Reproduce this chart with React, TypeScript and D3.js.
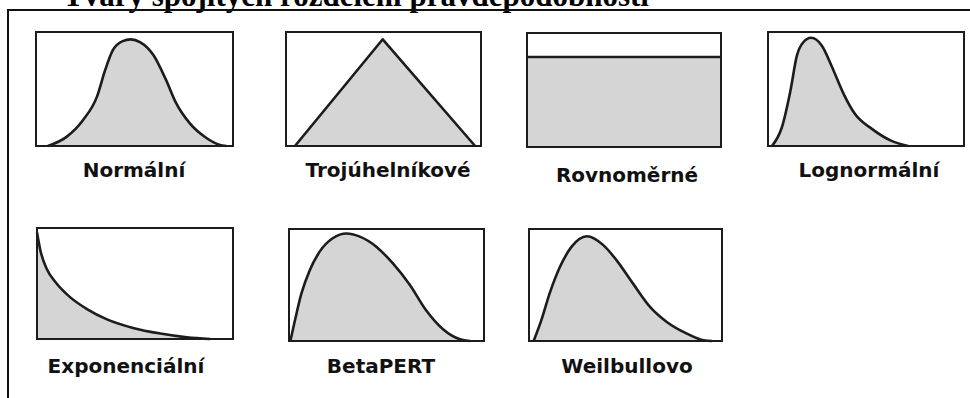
import React from 'react';
import * as d3 from 'd3';

// Tvary rozdělení: body (x, y v % šířky/výšky okénka)
const title = 'Tvary spojitých rozdělení pravděpodobnosti';

const labels = ['Normální', 'Trojúhelníkové', 'Rovnoměrné', 'Lognormální', 'Exponenciální', 'BetaPERT', 'Weilbullovo'];

const normal: [number, number][] = [
  [6, 0], [15.5, 8], [24, 23], [31, 43.5], [35, 66], [39, 84], [44, 92], [48, 93.5], [53, 91],
  [59.5, 80], [66, 58], [71, 38], [78, 20], [86.5, 7], [93, 1.2], [96.6, 0],
];
const triangular: [number, number][] = [[4.6, 0], [49.6, 93.6], [97, 0]];
const uniform: [number, number][] = [[0, 79], [100, 79]];
const lognormal: [number, number][] = [
  [2, 0], [7, 16], [11.5, 49], [14.7, 79], [18, 91], [22, 95], [27.5, 88], [32.5, 70],
  [38.5, 46], [44.4, 28], [53, 15], [63, 4.5], [71.5, 0],
];
const exponential: [number, number][] = [
  [0, 96], [1.7, 80], [5, 63], [10, 50], [17, 37.5], [25.5, 27], [35.7, 17.7], [49, 10],
  [63, 4.9], [76.5, 1.5], [88.4, 0],
];
const betaPert: [number, number][] = [
  [0.7, 0], [3, 18], [6.3, 42], [10.6, 63], [15.8, 80], [22.6, 92], [29.5, 96], [36, 93.4],
  [44.9, 84], [53.4, 69], [62, 50], [70.5, 27], [79, 10.5], [87.7, 1.5], [92.8, 0],
];
const weibull: [number, number][] = [
  [2.4, 0], [6.4, 18.6], [10.7, 42.5], [16, 66], [22, 84], [30, 93.5], [38.5, 85.6],
  [45.4, 72], [54, 51], [62.7, 30.5], [71.4, 17], [81.8, 6.6], [90.5, 0.6], [94.8, 0],
];

const series = [normal, triangular, uniform, lognormal, exponential, betaPert, weibull];
const straight = [false, true, true, false, false, false, false];

// rozložení okének na stránce
const boxes = [
  { x0: 36, x1: 233, y0: 32, y1: 146, lx: 134, ly: 177 },
  { x0: 286, x1: 481, y0: 32, y1: 146, lx: 388, ly: 177 },
  { x0: 527, x1: 721, y0: 33, y1: 147, lx: 627, ly: 182 },
  { x0: 768, x1: 964, y0: 32, y1: 146, lx: 869, ly: 177 },
  { x0: 37, x1: 233, y0: 228, y1: 339, lx: 126, ly: 373 },
  { x0: 289, x1: 484, y0: 229, y1: 341, lx: 381, ly: 373 },
  { x0: 529, x1: 722, y0: 229, y1: 341, lx: 627, ly: 373 },
];

const Panel = ({ i }: { i: number }) => {
  const b = boxes[i];
  const x = d3.scaleLinear().domain([0, 100]).range([b.x0, b.x1]);
  const y = d3.scaleLinear().domain([0, 100]).range([b.y1, b.y0]);
  const curve = straight[i] ? d3.curveLinear : d3.curveMonotoneX;
  const area = d3.area<[number, number]>()
    .x(d => x(d[0]))
    .y0(y(0))
    .y1(d => y(d[1]))
    .curve(curve);
  const line = d3.line<[number, number]>()
    .x(d => x(d[0]))
    .y(d => y(d[1]))
    .curve(curve);
  return (
    <g>
      <rect x={b.x0} y={b.y0} width={b.x1 - b.x0} height={b.y1 - b.y0} fill="#fff" />
      <path d={area(series[i]) || ''} fill="#d5d5d5" />
      <path d={line(series[i]) || ''} fill="none" stroke="#1c1c1c" strokeWidth={2.6} strokeLinejoin="round" />
      <rect x={b.x0} y={b.y0} width={b.x1 - b.x0} height={b.y1 - b.y0} fill="none" stroke="#1c1c1c" strokeWidth={2} />
      <text x={b.lx} y={b.ly} textAnchor="middle" fontFamily="'DejaVu Sans', sans-serif" fontWeight="bold" fontSize={20} fill="#111">
        {labels[i]}
      </text>
    </g>
  );
};

export default function App() {
  return (
    <>
      <style>{'body{margin:0}'}</style>
      <svg width={970} height={398} style={{ display: 'block', background: '#fff' }}>
        <text x={63} y={6} fontFamily="'Liberation Serif', serif" fontWeight="bold" fontSize={31} fill="#000">
          {title}
        </text>
        <path d="M8,398 V10 H970" fill="none" stroke="#111" strokeWidth={2} />
        {labels.map((_, i) => <Panel key={i} i={i} />)}
      </svg>
    </>
  );
}
